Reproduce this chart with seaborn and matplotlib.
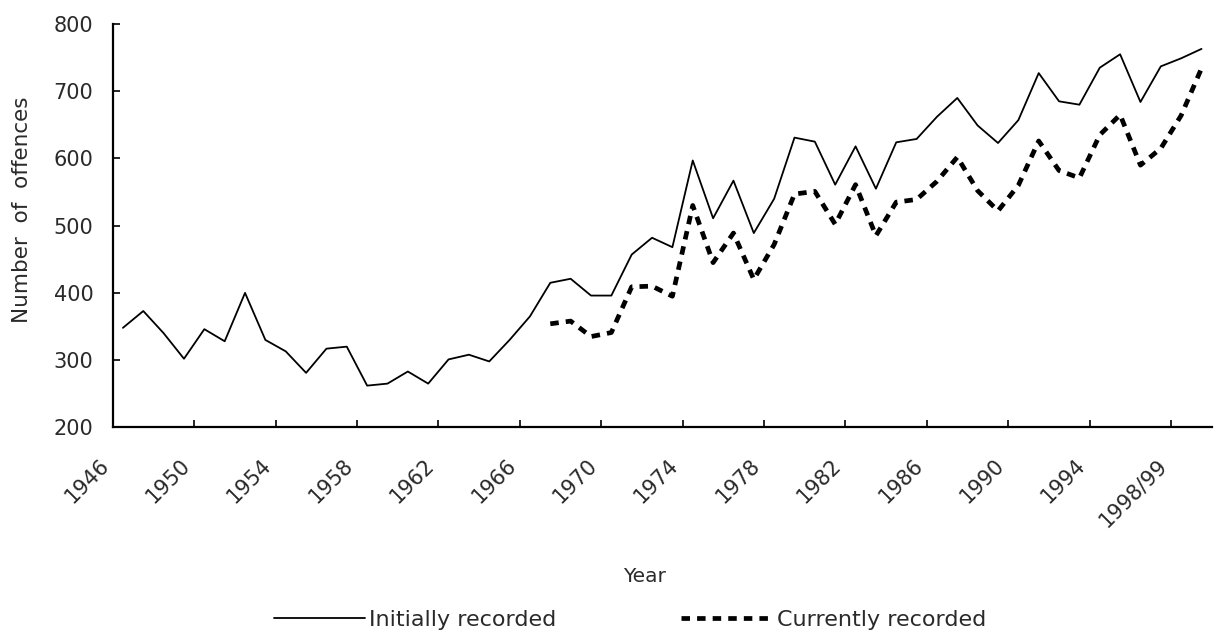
import numpy as np
import pandas as pd
import seaborn as sns
import matplotlib.pyplot as plt

# Offences by year, 1946 to 1999/00
years = [str(y) for y in range(1946, 1998)] + ["1998/99", "1999/00"]

initially = [348, 373, 340, 302, 346, 328, 400, 330, 313, 281, 317, 320, 262, 265, 283, 265,
             301, 308, 298, 330, 365, 415, 421, 396, 396, 457, 482, 468, 597, 511, 567,
             489, 540, 631, 625, 561, 618, 555, 624, 629, 662, 690, 649, 623, 657, 727,
             685, 680, 735, 755, 684, 737, 749, 763]

currently = [None] * 21 + [354, 358, 335, 341, 409, 410, 395, 530, 445, 489,
                           420, 472, 547, 551, 502, 561, 485, 535, 539, 566, 602, 552, 522, 560, 626,
                           582, 571, 635, 665, 590, 615, 664, 734]

tick_every = 4

sns.set_style("ticks")
plt.rcParams['font.family'] = ['DejaVu Sans']
text_col = '#2a2a2a'

pos = np.arange(len(years)) + 0.5
df = pd.DataFrame({'pos': pos, 'Initially recorded': initially, 'Currently recorded': currently})
df = df.melt(id_vars='pos', var_name='series', value_name='offences').dropna()

fig = plt.figure(figsize=(12.19, 6.39), dpi=100)
ax = fig.add_axes([0.0925, 0.3313, 0.9015, 0.6311])

order = ['Initially recorded', 'Currently recorded']
sns.lineplot(data=df, x='pos', y='offences', hue='series', style='series', size='series',
             hue_order=order, style_order=order, size_order=order,
             palette={'Initially recorded': 'black', 'Currently recorded': 'black'},
             dashes={'Initially recorded': '', 'Currently recorded': (1.8, 1.5)},
             sizes={'Initially recorded': 1.3, 'Currently recorded': 3.4},
             ax=ax)

ax.set_xlim(0, len(years))
ax.set_ylim(200, 800)
ax.set_yticks([200, 300, 400, 500, 600, 700, 800])
ticks = list(range(0, len(years) - 1, tick_every))
ax.set_xticks(ticks)
ax.set_xticklabels([years[i] for i in ticks], rotation=45, ha='right', va='top')

sns.despine(ax=ax)
for s in ['left', 'bottom']:
    ax.spines[s].set_linewidth(1.6)
    ax.spines[s].set_color('black')
ax.tick_params(axis='both', direction='in', length=5, width=1.2, colors='black',
               labelsize=15, labelcolor=text_col)
ax.tick_params(axis='x', pad=20)
ax.tick_params(axis='y', pad=14)

ax.set_ylabel('Number  of  offences', fontsize=15.5, color=text_col, va='center')
ax.yaxis.set_label_coords(-0.0825, 0.54)
ax.set_xlabel('Year', fontsize=14.5, color=text_col, va='center')
ax.xaxis.set_label_coords(0.484, -0.371)

sns.move_legend(ax, 'center', bbox_to_anchor=(0.4706, -0.478), ncol=2, frameon=False,
                title=None, fontsize=16, handlelength=4.1, handletextpad=0.2,
                columnspacing=5.6, labelcolor=text_col)

fig.savefig('out.png', dpi=100)
